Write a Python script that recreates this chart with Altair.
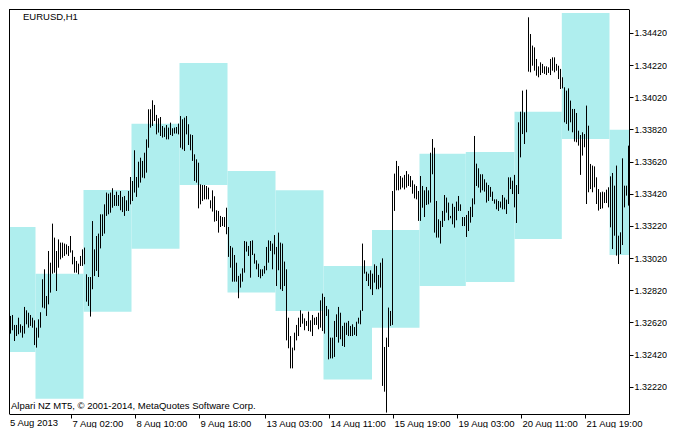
import altair as alt
import pandas as pd

# ---- OHLC bar ranges (EURUSD H1), one value per hourly bar ----
highs = [
    1.32660, 1.32666, 1.32604, 1.32604, 1.32649, 1.32608, 1.32598, 1.32716, 1.32695, 1.32680,
    1.32666, 1.32649, 1.32633, 1.32587, 1.32639, 1.32683, 1.32888, 1.32950, 1.32784, 1.33064,
    1.32991, 1.33234, 1.33147, 1.33064, 1.33136, 1.33116, 1.33116, 1.33110, 1.33105, 1.33095,
    1.33157, 1.33068, 1.33027, 1.33002, 1.32985, 1.33033, 1.33074, 1.33085, 1.32919, 1.32902,
    1.32902, 1.33250, 1.33074, 1.33157, 1.33172, 1.33292, 1.33292, 1.33354, 1.33427, 1.33420,
    1.33427, 1.33454, 1.33412, 1.33433, 1.33412, 1.33437, 1.33400, 1.33406, 1.33379, 1.33437,
    1.33524, 1.33499, 1.33690, 1.33524, 1.33619, 1.33644, 1.33624, 1.33675, 1.33758, 1.33945,
    1.33945, 1.34001, 1.33972, 1.33910, 1.33889, 1.33897, 1.33841, 1.33831, 1.33847, 1.33831,
    1.33862, 1.33827, 1.33831, 1.33835, 1.33856, 1.33903, 1.33883, 1.33893, 1.33903, 1.33852,
    1.33789, 1.33785, 1.33665, 1.33634, 1.33613, 1.33478, 1.33474, 1.33474, 1.33468, 1.33458,
    1.33379, 1.33441, 1.33404, 1.33317, 1.33313, 1.33282, 1.33275, 1.33275, 1.33333, 1.33213,
    1.33095, 1.33085, 1.33039, 1.32991, 1.32909, 1.32923, 1.32956, 1.33126, 1.33122, 1.33095,
    1.33126, 1.33130, 1.33047, 1.33006, 1.32985, 1.32950, 1.32950, 1.32971, 1.33089, 1.33130,
    1.33126, 1.33110, 1.33163, 1.33089, 1.33178, 1.33116, 1.33110, 1.32998, 1.32950, 1.32649,
    1.32535, 1.32463, 1.32556, 1.32604, 1.32649, 1.32695, 1.32674, 1.32645, 1.32629, 1.32687,
    1.32633, 1.32666, 1.32649, 1.32654, 1.32680, 1.32757, 1.32799, 1.32778, 1.32722, 1.32701,
    1.32525, 1.32525, 1.32629, 1.32670, 1.32716, 1.32680, 1.32598, 1.32618, 1.32618, 1.32629,
    1.32598, 1.32608, 1.32591, 1.32624, 1.32649, 1.32695, 1.33110, 1.33006, 1.32935, 1.32923,
    1.32944, 1.32923, 1.32981, 1.32971, 1.32915, 1.32991, 1.33018, 1.32467, 1.32525, 1.32712,
    1.32691, 1.33437, 1.33545, 1.33624, 1.33592, 1.33530, 1.33520, 1.33537, 1.33561, 1.33541,
    1.33530, 1.33503, 1.33478, 1.33468, 1.33437, 1.33530, 1.33468, 1.33441, 1.33462, 1.33441,
    1.33675, 1.33760, 1.33706, 1.33375, 1.33261, 1.33251, 1.33313, 1.33412, 1.33396, 1.33365,
    1.33282, 1.33358, 1.33338, 1.33371, 1.33406, 1.33354, 1.33275, 1.33275, 1.33288, 1.33313,
    1.33338, 1.33391, 1.33779, 1.33607, 1.33578, 1.33541, 1.33541, 1.33510, 1.33489, 1.33474,
    1.33462, 1.33433, 1.33385, 1.33385, 1.33375, 1.33371, 1.33412, 1.33396, 1.33383, 1.33522,
    1.33522, 1.33501, 1.33537, 1.33474, 1.33864, 1.33930, 1.34061, 1.33926, 1.34067, 1.34517,
    1.34413, 1.34341, 1.34330, 1.34258, 1.34212, 1.34237, 1.34227, 1.34212, 1.34212, 1.34206,
    1.34258, 1.34268, 1.34268, 1.34227, 1.34216, 1.34196, 1.34144, 1.34082, 1.34061, 1.34075,
    1.33999, 1.33947, 1.33947, 1.33922, 1.33812, 1.33785, 1.33802, 1.33791, 1.33968, 1.33843,
    1.33605, 1.33595, 1.33590, 1.33522, 1.33449, 1.33429, 1.33433, 1.33429, 1.33445, 1.33460,
    1.33528, 1.33549, 1.33470, 1.33595, 1.33159, 1.33180, 1.33640, 1.33470, 1.33470, 1.33719,
]
lows = [
    1.32550, 1.32571, 1.32504, 1.32535, 1.32546, 1.32556, 1.32525, 1.32550, 1.32608, 1.32587,
    1.32598, 1.32587, 1.32479, 1.32463, 1.32525, 1.32587, 1.32712, 1.32707, 1.32660, 1.32732,
    1.32805, 1.32923, 1.32929, 1.32815, 1.32960, 1.33012, 1.33022, 1.33033, 1.33043, 1.33033,
    1.33054, 1.32981, 1.32929, 1.32929, 1.32919, 1.32971, 1.32971, 1.32981, 1.32749, 1.32722,
    1.32656, 1.32826, 1.32908, 1.32940, 1.32902, 1.33080, 1.33157, 1.33172, 1.33282, 1.33292,
    1.33302, 1.33333, 1.33344, 1.33344, 1.33344, 1.33317, 1.33306, 1.33282, 1.33313, 1.33313,
    1.33354, 1.33375, 1.33427, 1.33400, 1.33458, 1.33489, 1.33520, 1.33516, 1.33551, 1.33706,
    1.33831, 1.33841, 1.33872, 1.33789, 1.33800, 1.33779, 1.33769, 1.33773, 1.33758, 1.33758,
    1.33785, 1.33779, 1.33794, 1.33794, 1.33789, 1.33706, 1.33696, 1.33686, 1.33789, 1.33723,
    1.33690, 1.33624, 1.33499, 1.33489, 1.33329, 1.33354, 1.33375, 1.33385, 1.33385, 1.33385,
    1.33329, 1.33309, 1.33246, 1.33250, 1.33178, 1.33213, 1.33219, 1.33213, 1.33168, 1.33027,
    1.32960, 1.32873, 1.32873, 1.32873, 1.32770, 1.32836, 1.32873, 1.32929, 1.33060, 1.33033,
    1.32898, 1.33039, 1.32985, 1.32950, 1.32902, 1.32894, 1.32908, 1.32923, 1.32944, 1.32991,
    1.33064, 1.32950, 1.33043, 1.32846, 1.32944, 1.32826, 1.32815, 1.32846, 1.32508, 1.32459,
    1.32334, 1.32334, 1.32446, 1.32508, 1.32535, 1.32591, 1.32612, 1.32571, 1.32598, 1.32566,
    1.32562, 1.32535, 1.32604, 1.32604, 1.32577, 1.32587, 1.32566, 1.32550, 1.32660, 1.32390,
    1.32396, 1.32396, 1.32405, 1.32529, 1.32494, 1.32515, 1.32473, 1.32467, 1.32542, 1.32535,
    1.32535, 1.32535, 1.32542, 1.32535, 1.32612, 1.32608, 1.32691, 1.32923, 1.32877, 1.32846,
    1.32826, 1.32790, 1.32867, 1.32826, 1.32826, 1.32836, 1.32225, 1.32189, 1.32059, 1.32467,
    1.32598, 1.32604, 1.33313, 1.33441, 1.33441, 1.33447, 1.33458, 1.33447, 1.33458, 1.33468,
    1.33462, 1.33420, 1.33391, 1.33385, 1.33251, 1.33251, 1.33333, 1.33275, 1.33350, 1.33354,
    1.33365, 1.33541, 1.33178, 1.33147, 1.33147, 1.33110, 1.33213, 1.33251, 1.33302, 1.33255,
    1.33267, 1.33230, 1.33209, 1.33255, 1.33313, 1.33313, 1.33219, 1.33219, 1.33151, 1.33188,
    1.33240, 1.33275, 1.33354, 1.33468, 1.33458, 1.33427, 1.33441, 1.33433, 1.33365, 1.33375,
    1.33400, 1.33375, 1.33358, 1.33323, 1.33313, 1.33333, 1.33323, 1.33323, 1.33294, 1.33356,
    1.33449, 1.33418, 1.33335, 1.33238, 1.33418, 1.33646, 1.33791, 1.33729, 1.33802, 1.34179,
    1.34175, 1.34216, 1.34185, 1.34154, 1.34144, 1.34158, 1.34171, 1.34165, 1.34158, 1.34171,
    1.34158, 1.34185, 1.34175, 1.34185, 1.34133, 1.34071, 1.34075, 1.33864, 1.33854, 1.33812,
    1.33864, 1.33802, 1.33744, 1.33740, 1.33719, 1.33537, 1.33657, 1.33709, 1.33356, 1.33429,
    1.33449, 1.33429, 1.33460, 1.33356, 1.33315, 1.33325, 1.33329, 1.33362, 1.33362, 1.33335,
    1.33211, 1.33076, 1.33159, 1.33035, 1.32983, 1.33045, 1.33101, 1.33335, 1.33408, 1.33346,
]
bar_index = list(range(len(highs)))

# ---- daily range boxes (bar-index span, price top/bottom) ----
box_start = [-0.75, 12.5, 36.5, 60.5, 84.5, 108.5, 132.5, 156.5, 180.75, 204.5, 227.65, 252.0, 275.65, 299.5]
box_end = [12.5, 36.5, 60.5, 84.5, 108.5, 132.5, 156.5, 180.75, 204.5, 227.65, 252.0, 275.65, 299.5, 309.25]
box_top = [1.33213, 1.32923, 1.33443, 1.33855, 1.34233, 1.33561, 1.33441, 1.32971, 1.33194, 1.33669, 1.33680, 1.33930, 1.34544, 1.33818]
box_bottom = [1.32436, 1.32145, 1.32686, 1.33078, 1.33474, 1.32805, 1.32691, 1.32264, 1.32587, 1.32846, 1.32871, 1.33139, 1.33760, 1.33039]

# ---- axis ticks ----
tick_bars = [30, 62, 94, 127, 159, 191, 223, 255, 287]
tick_labels = ["7 Aug 02:00", "8 Aug 10:00", "9 Aug 18:00", "13 Aug 03:00", "14 Aug 11:00",
               "15 Aug 19:00", "19 Aug 03:00", "20 Aug 11:00", "21 Aug 19:00"]
first_label = "5 Aug 2013"
price_ticks = [1.32220, 1.32420, 1.32620, 1.32820, 1.33020, 1.33220, 1.33420, 1.33620, 1.33820, 1.34020, 1.34220, 1.34420]
title_text = "EURUSD,H1"
footer_text = "Alpari NZ MT5, \u00a9 2001-2014, MetaQuotes Software Corp."

W, H = 620, 405
FONT = "Liberation Sans"

bars_df = pd.DataFrame({"i": bar_index, "high": highs, "low": lows})
boxes_df = pd.DataFrame({"start": box_start, "end": box_end, "top": box_top, "bottom": box_bottom})
one = pd.DataFrame({"a": [0]})

x_scale = alt.Scale(domain=[-0.75, 309.25], nice=False, zero=False)
y_scale = alt.Scale(domain=[1.3205024, 1.3456861], nice=False, zero=False)

label_expr = ("[" + ",".join("'%s'" % t for t in tick_labels) + "][indexof(["
              + ",".join(str(v) for v in tick_bars) + "], datum.value)]")

x_axis = alt.Axis(orient="bottom", values=tick_bars, labelExpr=label_expr, title=None, grid=False,
                  labelAlign="left", labelOffset=1.5, labelPadding=0, tickSize=4,
                  tickColor="black", domainColor="black", labelColor="black",
                  labelFont=FONT, labelFontSize=9.5, labelFlush=False, labelOverlap=False)
y_axis = alt.Axis(orient="right", values=price_ticks, format=".5f", title=None, grid=False,
                  tickSize=4, labelPadding=1, tickColor="black", domainColor="black",
                  labelColor="black", labelFont=FONT, labelFontSize=9, labelOverlap=False,
                  labelFlush=False)

boxes = alt.Chart(boxes_df).mark_rect(color="#AFEEEE", opacity=1).encode(
    x=alt.X("start:Q", scale=x_scale, axis=x_axis),
    x2="end:Q",
    y=alt.Y("top:Q", scale=y_scale, axis=y_axis),
    y2="bottom:Q",
)

bars = alt.Chart(bars_df).mark_rule(color="black", strokeWidth=1).encode(
    x=alt.X("i:Q", scale=x_scale, axis=x_axis),
    y=alt.Y("high:Q", scale=y_scale, axis=y_axis),
    y2="low:Q",
)

top_line = alt.Chart(one).mark_rule(color="black", strokeWidth=1).encode(
    x=alt.value(0), x2=alt.value(W), y=alt.value(0.5))
left_line = alt.Chart(one).mark_rule(color="black", strokeWidth=1).encode(
    x=alt.value(0.5), y=alt.value(0), y2=alt.value(H))

title_mark = alt.Chart(one).mark_text(text=title_text, align="left", baseline="alphabetic",
                                      font=FONT, fontSize=9.5, color="black").encode(
    x=alt.value(14), y=alt.value(11))
footer_mark = alt.Chart(one).mark_text(text=footer_text, align="left", baseline="alphabetic",
                                       font=FONT, fontSize=9.5, color="black").encode(
    x=alt.value(2), y=alt.value(400))
first_mark = alt.Chart(one).mark_text(text=first_label, align="left", baseline="top",
                                      font=FONT, fontSize=9.5, color="black").encode(
    x=alt.value(1), y=alt.value(H + 4))

chart = alt.layer(boxes, bars, top_line, left_line, title_mark, footer_mark, first_mark).properties(
    width=W, height=H, padding=0, background="white"
).configure_view(stroke=None)

chart.save("out.html", embed_options={"renderer": "svg", "actions": False})
